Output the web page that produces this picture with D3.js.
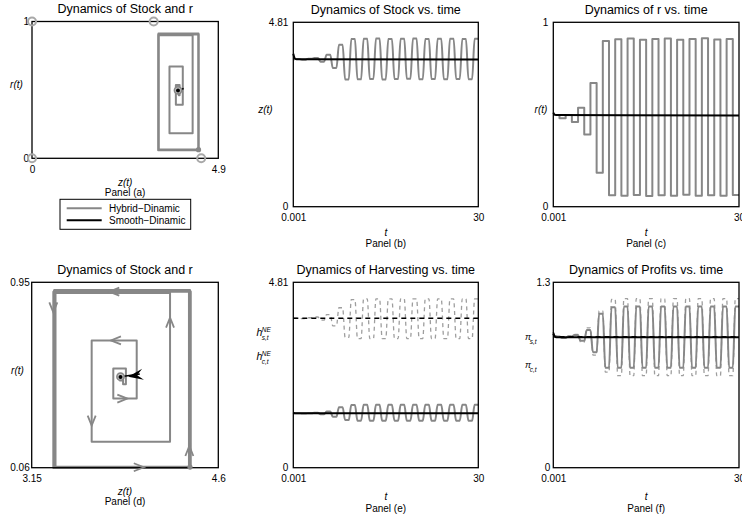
<!DOCTYPE html>
<html>
<head>
<meta charset="utf-8">
<script src="https://cdnjs.cloudflare.com/ajax/libs/d3/7.8.5/d3.min.js"></script>
<style>
  body { margin: 0; background: #fff; }
  svg { display: block; font-family: "Liberation Sans", Arial, sans-serif; }
</style>
</head>
<body>
<div id="chart"></div>
<script>
// ---- data ----
// r switches at every integer time; z, h, pi move to a new level inside each interval
var switchTimes = [0,1,2,3,4,5,6,7,8,9,10,11,12,13,14,15,16,17,18,19,20,21,22,23,24,25,26,27,28,29,30];

// r(t) level held on [k, k+1)
var rHybrid = [0.497,0.479,0.497,0.46,0.536,0.392,0.671,0.184,0.899,0.062,
               0.908,0.06,0.912,0.064,0.905,0.058,0.91,0.062,0.912,0.06,
               0.906,0.065,0.91,0.059,0.913,0.062,0.907,0.06,0.91,0.063];

// levels reached at each switch time
var zHybrid = [3.84,3.85,3.835,3.86,3.882,3.784,3.966,3.616,4.225,3.318,
               4.372,3.322,4.378,3.33,4.385,3.318,4.375,3.328,4.38,3.335,
               4.386,3.322,4.374,3.33,4.38,3.325,4.384,3.332,4.376,3.326,4.38];
var hsHybrid = [3.88,3.88,3.87,3.89,3.91,3.83,3.97,3.68,4.15,3.38,
                4.36,3.35,4.38,3.35,4.38,3.35,4.38,3.35,4.38,3.35,
                4.38,3.35,4.38,3.35,4.38,3.35,4.38,3.35,4.38,3.35,4.38];
var hcHybrid = [1.41,1.415,1.405,1.415,1.425,1.385,1.46,1.32,1.57,1.235,
                1.625,1.22,1.63,1.22,1.63,1.22,1.63,1.22,1.63,1.22,
                1.63,1.22,1.63,1.22,1.63,1.22,1.63,1.22,1.63,1.22,1.63];
var piSHybrid = [0.92,0.925,0.915,0.925,0.935,0.88,0.98,0.79,1.1,0.67,
                 1.18,0.645,1.185,0.645,1.185,0.645,1.185,0.645,1.185,0.645,
                 1.185,0.645,1.185,0.645,1.185,0.645,1.185,0.645,1.185,0.645,1.185];
var piCHybrid = [0.915,0.92,0.91,0.92,0.93,0.89,0.965,0.81,1.08,0.70,
                 1.125,0.70,1.13,0.70,1.13,0.70,1.13,0.70,1.13,0.70,
                 1.13,0.70,1.13,0.70,1.13,0.70,1.13,0.70,1.13,0.70,1.13];

// smooth dynamic
var smoothT   = [0.001, 0.2, 0.5, 30];
var zSmooth   = [3.99, 3.88, 3.845, 3.84];
var rSmooth   = [0.51, 0.50, 0.497, 0.495];
var hsSmooth  = [3.88, 3.88, 3.88, 3.88];
var hcSmooth  = [1.43, 1.415, 1.41, 1.41];
var piSSmooth = [0.95, 0.925, 0.918, 0.918];
var piCSmooth = [0.94, 0.92, 0.915, 0.915];

// open circles in panel (a)
var markZ = [0, 3.2, 0, 4.45];
var markR = [1, 1, 0, 0];

// direction arrows along the spiral in panel (d)
var arrowZ   = [3.784, 3.797, 3.862, 3.616, 4.225, 3.318, 3.99, 4.375];
var arrowR   = [0.905, 0.671, 0.392, 0.281, 0.761, 0.825, 0.062, 0.145];
var arrowDir = ["left", "left", "right", "down", "up", "down", "right", "up"];

var legendLabels = ["Hybrid\u2212Dinamic", "Smooth\u2212Dinamic"];

// tick labels
var timeTicks = [0.001, 30];
var zTicksA = [0, 4.9], rTicksA = [0, 1];
var zTicksD = [3.15, 4.6], rTicksD = [0.06, 0.95];
var stockTicks = [0, 4.81], rTicks = [0, 1];
var harvestTicks = [0, 4.81], profitTicks = [0, 1.3];

// ---- drawing ----
var W = 742, H = 517;
var GRAY = "#878787", LGRAY = "#9e9e9e";
var TAU = 0.4; // how long a level takes to settle after a switch

var svg = d3.select("#chart").append("svg")
    .attr("width", W)
    .attr("height", H);
svg.append("rect").attr("width", W).attr("height", H).attr("fill", "#fff");

function makePanel(o) {
    var b = o.box; // [left, right, top, bottom]
    var x = d3.scaleLinear().domain(o.xDom).range([b[0], b[1]]);
    var y = d3.scaleLinear().domain(o.yDom).range([b[3], b[2]]);
    var g = svg.append("g");
    var plot = g.append("g");
    var over = g.append("g");

    g.append("rect")
        .attr("x", b[0]).attr("y", b[2])
        .attr("width", b[1] - b[0]).attr("height", b[3] - b[2])
        .attr("fill", "none").attr("stroke", "#000").attr("stroke-width", 1.3);

    var xa = g.append("g")
        .attr("transform", "translate(0," + b[3] + ")")
        .call(d3.axisBottom(x).tickValues(o.xTicks).tickSize(0).tickPadding(7.5).tickFormat(String));
    var ya = g.append("g")
        .attr("transform", "translate(" + b[0] + ",0)")
        .call(d3.axisLeft(y).tickValues(o.yTicks).tickSize(0).tickPadding(o.yPad || 4).tickFormat(String));
    [xa, ya].forEach(function(a) {
        a.select(".domain").remove();
        a.attr("font-family", null).attr("font-size", 10);
    });

    g.append("text")
        .attr("x", (b[0] + b[1]) / 2).attr("y", b[2] - 8.3)
        .attr("text-anchor", "middle").attr("font-size", 12.5)
        .text(o.title);
    g.append("text")
        .attr("x", (b[0] + b[1]) / 2).attr("y", b[3] + o.xLabOff[0])
        .attr("text-anchor", "middle").attr("font-size", 10).attr("font-style", "italic")
        .text(o.xLabel);
    g.append("text")
        .attr("x", (b[0] + b[1]) / 2).attr("y", b[3] + o.xLabOff[1])
        .attr("text-anchor", "middle").attr("font-size", 10)
        .text(o.name);
    if (o.yLabel) {
        g.append("text")
            .attr("x", o.yLabX).attr("y", (b[2] + b[3]) / 2 - 1.5)
            .attr("text-anchor", "middle").attr("font-size", 10).attr("font-style", "italic")
            .text(o.yLabel);
    }
    over.raise();
    return { g: g, plot: plot, over: over, x: x, y: y };
}

// levels that move to the next value shortly after each switch
function plateau(vals, tau) {
    var pts = [];
    for (var k = 0; k < vals.length; k++) {
        pts.push([switchTimes[k], vals[k]]);
        if (k < vals.length - 1) pts.push([switchTimes[k] + tau, vals[k + 1]]);
    }
    return pts;
}
function steps(vals) {
    var pts = vals.map(function(v, k) { return [switchTimes[k], v]; });
    pts.push([switchTimes[vals.length], vals[vals.length - 1]]);
    return pts;
}
function zip(a, b) { return a.map(function(v, i) { return [v, b[i]]; }); }

function drawLine(p, pts, color, width, curve, dash) {
    var line = d3.line()
        .x(function(d) { return p.x(d[0]); })
        .y(function(d) { return p.y(d[1]); })
        .curve(curve || d3.curveLinear);
    p.plot.append("path")
        .attr("d", line(pts))
        .attr("fill", "none")
        .attr("stroke", color)
        .attr("stroke-width", width)
        .attr("stroke-linejoin", "round")
        .attr("stroke-dasharray", dash || null);
}

// phase path: z moves at constant r, then r jumps at constant z
function phasePath() {
    var pts = [[zHybrid[0], rHybrid[0]]];
    for (var k = 0; k < rHybrid.length; k++) {
        pts.push([zHybrid[k + 1], rHybrid[k]]);
        if (k < rHybrid.length - 1) pts.push([zHybrid[k + 1], rHybrid[k + 1]]);
    }
    return pts;
}

function drawPhase(p, withArrows) {
    drawLine(p, phasePath(), GRAY, 2);
    drawLine(p, zip(zSmooth, rSmooth), "#000", 1.6);
    var last = rHybrid.length - 1;
    p.over.append("circle")
        .attr("cx", p.x(zHybrid[0])).attr("cy", p.y(rHybrid[0])).attr("r", 3.6)
        .attr("fill", "#c4c4c4").attr("stroke", GRAY).attr("stroke-width", 1.6);
    p.over.append("circle")
        .attr("cx", p.x(zSmooth[zSmooth.length - 1])).attr("cy", p.y(rSmooth[rSmooth.length - 1]))
        .attr("r", 2).attr("fill", "#000");
    p.over.append("circle")
        .attr("cx", p.x(zHybrid[last + 1])).attr("cy", p.y(rHybrid[last])).attr("r", 2.6)
        .attr("fill", GRAY);
    if (withArrows) {
        var dirs = { left: [-1, 0], right: [1, 0], up: [0, -1], down: [0, 1] };
        arrowZ.forEach(function(z, i) {
            var d = dirs[arrowDir[i]];
            var tx = p.x(z) + d[0] * 4, ty = p.y(arrowR[i]) + d[1] * 4;
            var bx = tx - d[0] * 10, by = ty - d[1] * 10;
            p.over.append("path")
                .attr("d", "M" + (bx - d[1] * 4) + "," + (by + d[0] * 4) +
                           "L" + tx + "," + ty +
                           "L" + (bx + d[1] * 4) + "," + (by - d[0] * 4))
                .attr("fill", "none").attr("stroke", GRAY).attr("stroke-width", 1.8)
                .attr("stroke-linejoin", "miter");
        });
        // black head on the smooth trajectory, pointing to the equilibrium
        var x0 = p.x(zSmooth[0]), y0 = p.y(rSmooth[0]);
        var x1 = p.x(zSmooth[3]), y1 = p.y(rSmooth[3]);
        var ang = Math.atan2(y1 - y0, x1 - x0) * 180 / Math.PI;
        var tip = [p.x(3.9), p.y(rSmooth[2])];
        p.over.append("path")
            .attr("d", "M0,0L-15,-5.5L-9,0L-15,5.5Z")
            .attr("transform", "translate(" + tip[0] + "," + tip[1] + ") rotate(" + ang + ")")
            .attr("fill", "#000");
    }
}

// ---- panel (a) ----
var pa = makePanel({
    box: [32, 218.3, 21.5, 158.3], xDom: [0, 4.9], yDom: [0, 1],
    xTicks: zTicksA, yTicks: rTicksA, yPad: 3,
    title: "Dynamics of Stock and r", xLabel: "z(t)", name: "Panel (a)",
    xLabOff: [27.5, 38], yLabel: "r(t)", yLabX: 16.5
});
drawPhase(pa, false);
markZ.forEach(function(z, i) {
    pa.over.append("circle")
        .attr("cx", pa.x(z)).attr("cy", pa.y(markR[i])).attr("r", 4)
        .attr("fill", "none").attr("stroke", "#a8a8a8").attr("stroke-width", 2);
});

// legend
var lg = svg.append("g");
lg.append("rect").attr("x", 60).attr("y", 199.3).attr("width", 130.7).attr("height", 30)
    .attr("fill", "#fff").attr("stroke", "#000").attr("stroke-width", 1);
legendLabels.forEach(function(t, i) {
    var yy = 208.2 + i * 12;
    lg.append("line").attr("x1", 66.7).attr("x2", 101.7).attr("y1", yy).attr("y2", yy)
        .attr("stroke", i === 0 ? GRAY : "#000").attr("stroke-width", 2);
    lg.append("text").attr("x", 109).attr("y", yy + 3.5).attr("font-size", 10).text(t);
});

// ---- panel (b) ----
var pb = makePanel({
    box: [293.3, 478.3, 22.3, 206.7], xDom: [0.001, 30], yDom: [0, 4.81],
    xTicks: timeTicks, yTicks: stockTicks, yPad: 5,
    title: "Dynamics of Stock vs. time", xLabel: "t", name: "Panel (b)",
    xLabOff: [29, 40], yLabel: "z(t)", yLabX: 265.5
});
drawLine(pb, plateau(zHybrid, TAU), GRAY, 2, d3.curveMonotoneX);
drawLine(pb, zip(smoothT, zSmooth), "#000", 2, d3.curveMonotoneX);

// ---- panel (c) ----
var pc = makePanel({
    box: [553.3, 739, 22.3, 206.7], xDom: [0.001, 30], yDom: [0, 1],
    xTicks: timeTicks, yTicks: rTicks, yPad: 5,
    title: "Dynamics of r vs. time", xLabel: "t", name: "Panel (c)",
    xLabOff: [29, 40], yLabel: "r(t)", yLabX: 541
});
drawLine(pc, steps(rHybrid), GRAY, 2, d3.curveStepAfter);
drawLine(pc, zip(smoothT, rSmooth), "#000", 2, d3.curveMonotoneX);

// ---- panel (d) ----
var pd = makePanel({
    box: [31.7, 218.3, 282.3, 467.7], xDom: [3.15, 4.6], yDom: [0.06, 0.95],
    xTicks: zTicksD, yTicks: rTicksD, yPad: 2,
    title: "Dynamics of Stock and r", xLabel: "z(t)", name: "Panel (d)",
    xLabOff: [27, 37], yLabel: "r(t)", yLabX: 17.5
});
drawPhase(pd, true);

// ---- panel (e) ----
var pe = makePanel({
    box: [293.3, 478.3, 282.3, 467.7], xDom: [0.001, 30], yDom: [0, 4.81],
    xTicks: timeTicks, yTicks: harvestTicks, yPad: 5,
    title: "Dynamics of Harvesting vs. time", xLabel: "t", name: "Panel (e)",
    xLabOff: [32, 44]
});
drawLine(pe, plateau(hsHybrid, TAU), LGRAY, 1.3, d3.curveMonotoneX, "4,3.5");
drawLine(pe, plateau(hcHybrid, TAU), GRAY, 2, d3.curveMonotoneX);
drawLine(pe, zip(smoothT, hsSmooth), "#000", 1.5, d3.curveMonotoneX, "5,4");
drawLine(pe, zip(smoothT, hcSmooth), "#000", 2, d3.curveMonotoneX);

function hLabel(x, y, sub) {
    svg.append("text").attr("x", x).attr("y", y).attr("font-size", 10.5)
        .attr("font-style", "italic").text("h");
    svg.append("text").attr("x", x + 5.2).attr("y", y - 4.5).attr("font-size", 6.5)
        .attr("font-style", "italic").text("NE");
    svg.append("text").attr("x", x + 5.2).attr("y", y + 3.5).attr("font-size", 6.5)
        .attr("font-style", "italic").text(sub);
}
hLabel(256.5, 336, "s,t");
hLabel(256.5, 360, "c,t");

// ---- panel (f) ----
var pf = makePanel({
    box: [553.3, 739, 282.3, 467.7], xDom: [0.001, 30], yDom: [0, 1.3],
    xTicks: timeTicks, yTicks: profitTicks, yPad: 3,
    title: "Dynamics of Profits vs. time", xLabel: "t", name: "Panel (f)",
    xLabOff: [32, 44]
});
drawLine(pf, plateau(piSHybrid, TAU), LGRAY, 1.3, d3.curveMonotoneX, "4,3.5");
drawLine(pf, plateau(piCHybrid, TAU), GRAY, 2, d3.curveMonotoneX);
drawLine(pf, zip(smoothT, piSSmooth), "#000", 1.5, d3.curveMonotoneX, "5,4");
drawLine(pf, zip(smoothT, piCSmooth), "#000", 2, d3.curveMonotoneX);

function piLabel(x, y, sub) {
    svg.append("text").attr("x", x).attr("y", y).attr("font-size", 9)
        .attr("font-style", "italic").text("\u03c0");
    svg.append("text").attr("x", x + 4.8).attr("y", y + 3.5).attr("font-size", 6.5)
        .attr("font-style", "italic").text(sub);
}
piLabel(525, 340, "s,t");
piLabel(525, 368, "c,t");
</script>
</body>
</html>
